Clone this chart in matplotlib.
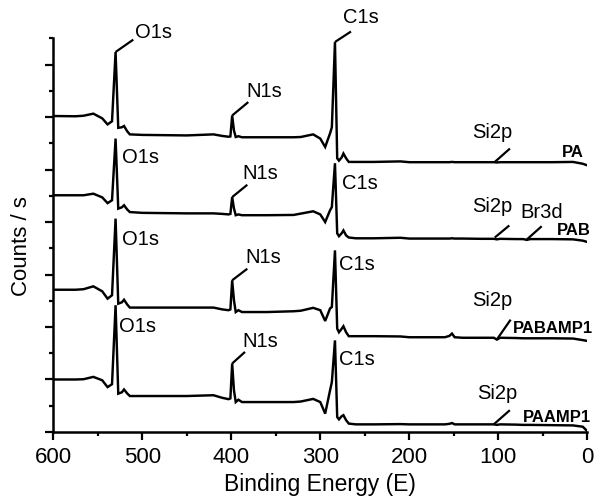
import matplotlib
matplotlib.use("Agg")
import matplotlib.pyplot as plt
from matplotlib.ticker import MultipleLocator, NullFormatter

plt.rcParams['font.family'] = ['Liberation Sans', 'DejaVu Sans']

# Binding energy grid (eV) shared by all spectra
be = [600, 575, 566, 555, 545, 539, 534, 530, 527, 523, 520.5, 517, 514, 500, 450,
      420, 410, 403, 401, 399, 397, 395, 392, 388, 360, 330, 322, 308, 300, 294.5,
      289, 287, 283.5, 281, 279, 276, 274, 271, 268, 260, 240, 210, 200, 160, 155,
      152, 149, 140, 120, 105, 101.5, 98, 80, 72, 68, 64, 40, 16, 5, 0]

# Offset intensities (arb. units)
pa = [12.04, 12.03, 12.05, 12.13, 11.95, 11.72, 11.84, 14.48, 11.59, 11.61, 11.66, 11.46,
      11.34, 11.32, 11.30, 11.34, 11.28, 11.25, 11.26, 12.06, 11.49, 11.24, 11.27, 11.23,
      11.23, 11.23, 11.24, 11.34, 11.18, 10.86, 11.38, 11.61, 14.86, 10.43, 10.34, 10.46,
      10.61, 10.43, 10.29, 10.29, 10.29, 10.31, 10.28, 10.28, 10.28, 10.29, 10.28, 10.28,
      10.28, 10.28, 10.27, 10.28, 10.28, 10.28, 10.28, 10.28, 10.28, 10.29, 10.22, 10.16]
pab = [9.02, 9.02, 9.02, 9.08, 8.94, 8.72, 8.83, 11.18, 8.51, 8.56, 8.64, 8.48, 8.38,
       8.35, 8.33, 8.33, 8.31, 8.29, 8.31, 8.95, 8.52, 8.26, 8.29, 8.26, 8.26, 8.27, 8.32,
       8.41, 8.29, 8.00, 8.45, 8.57, 10.24, 7.57, 7.46, 7.57, 7.68, 7.49, 7.41, 7.38, 7.38,
       7.40, 7.37, 7.37, 7.37, 7.38, 7.37, 7.37, 7.36, 7.36, 7.34, 7.36, 7.35, 7.35, 7.32,
       7.35, 7.35, 7.34, 7.29, 7.24]
pabamp1 = [5.42, 5.42, 5.44, 5.55, 5.36, 5.08, 5.21, 8.13, 4.89, 4.94, 5.04, 4.86, 4.74,
           4.74, 4.74, 4.74, 4.67, 4.64, 4.67, 5.78, 5.02, 4.57, 4.64, 4.57, 4.57, 4.60,
           4.62, 4.73, 4.64, 4.23, 4.71, 4.76, 6.92, 3.94, 3.80, 3.93, 4.03, 3.80, 3.65,
           3.65, 3.65, 3.64, 3.61, 3.61, 3.66, 3.75, 3.61, 3.59, 3.59, 3.59, 3.52, 3.59,
           3.58, 3.57, 3.57, 3.57, 3.57, 3.56, 3.50, 3.47]
paamp1 = [2.00, 2.00, 2.01, 2.10, 1.97, 1.71, 1.82, 4.83, 1.46, 1.51, 1.62, 1.47, 1.37,
          1.37, 1.37, 1.40, 1.30, 1.25, 1.28, 2.61, 1.59, 1.14, 1.23, 1.14, 1.14, 1.14,
          1.16, 1.26, 1.14, 0.70, 1.59, 1.90, 3.49, 0.57, 0.48, 0.60, 0.64, 0.45, 0.32,
          0.29, 0.29, 0.30, 0.29, 0.29, 0.31, 0.34, 0.29, 0.29, 0.29, 0.29, 0.27, 0.29,
          0.28, 0.27, 0.27, 0.27, 0.26, 0.25, 0.20, 0.03]

series = [pa, pab, pabamp1, paamp1]
sample_names = ["PA", "PAB", "PABAMP1", "PAAMP1"]

fig = plt.figure(figsize=(6.0, 5.03), dpi=100)
ax = fig.add_axes([0.0888, 0.1412, 0.8900, 0.7826])

for s in series:
    ax.plot(be, s, color='black', lw=1.75, solid_joinstyle='miter')

ax.set_xlim(600, 0)
ax.set_ylim(0, 15)

for side in ('top', 'right'):
    ax.spines[side].set_visible(False)
for side in ('left', 'bottom'):
    ax.spines[side].set_linewidth(1.8)

ax.xaxis.set_major_locator(MultipleLocator(100))
ax.xaxis.set_minor_locator(MultipleLocator(50))
ax.yaxis.set_major_locator(MultipleLocator(2))
ax.yaxis.set_minor_locator(MultipleLocator(1))
ax.yaxis.set_major_formatter(NullFormatter())
ax.tick_params(axis='both', which='major', direction='out', length=5.5, width=1.6,
               labelsize=16, pad=5)
ax.tick_params(axis='both', which='minor', direction='out', length=3.2, width=1.6)

ax.set_xlabel("Binding Energy (E)", fontsize=16.5, labelpad=4)
ax.set_ylabel("Counts / s", fontsize=16)
ax.yaxis.set_label_coords(-0.040, 0.472)

lab_fs = 14.5
# peak labels: (text, text x, text baseline y, leader line or None)
peak_labels = [
    ("O1s", 508.2, 15.00, (530, 14.48, 510.1, 14.95)),
    ("N1s", 382.7, 12.76, (399, 12.06, 380.9, 12.57)),
    ("C1s", 274.5, 15.57, (283.5, 14.86, 265.5, 15.26)),
    ("Si2p", 129.9, 11.20, (103.9, 10.29, 86.9, 10.80)),
    ("O1s", 523.1, 10.24, None),
    ("N1s", 387.2, 9.65, (399, 8.95, 382.0, 9.42)),
    ("C1s", 276.0, 9.27, None),
    ("Si2p", 129.9, 8.37, (103.9, 7.41, 87.6, 7.87)),
    ("Br3d", 75.6, 8.14, (68.1, 7.33, 51.2, 7.84)),
    ("O1s", 523.1, 7.11, None),
    ("N1s", 384.6, 6.42, (399, 5.78, 382.0, 6.22)),
    ("C1s", 278.7, 6.16, None),
    ("Si2p", 129.9, 4.79, (101.5, 3.53, 86.1, 4.28)),
    ("O1s", 525.8, 3.81, None),
    ("N1s", 387.2, 3.24, (399, 2.61, 384.6, 3.05)),
    ("C1s", 279.0, 2.54, None),
    ("Si2p", 124.3, 1.25, (105.1, 0.29, 87.0, 0.83)),
]
for txt, tx, ty, line in peak_labels:
    ax.text(tx, ty, txt, fontsize=lab_fs, ha='left', va='baseline', clip_on=False)
    if line is not None:
        ax.plot([line[0], line[2]], [line[1], line[3]], color='black', lw=1.6,
                clip_on=False, solid_capstyle='butt')

name_pos = [(28.7, 10.48), (34.4, 7.49), (83.1, 3.77), (71.9, 0.38)]
for name, (nx, ny) in zip(sample_names, name_pos):
    ax.text(nx, ny, name, fontsize=12, fontweight='bold', ha='left', va='baseline',
            clip_on=False)

fig.savefig("out.png", dpi=100)
